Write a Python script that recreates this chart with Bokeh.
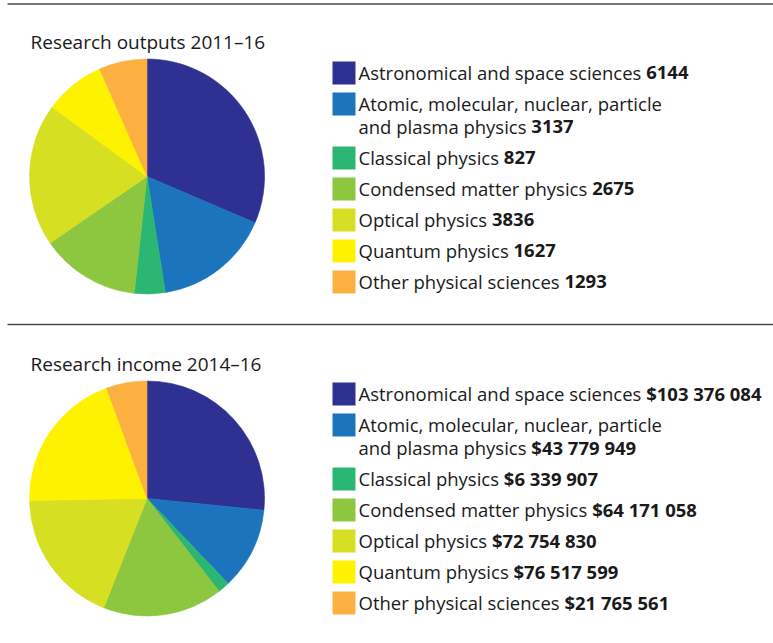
import os, subprocess
import numpy as np
from bokeh.plotting import figure
from bokeh.models import Range1d, ColumnDataSource
from bokeh.core.properties import value
from bokeh.embed import file_html
from bokeh.resources import INLINE

# ---------------- data ----------------
category_lines = [
    ["Astronomical and space sciences"],
    ["Atomic, molecular, nuclear, particle", "and plasma physics"],
    ["Classical physics"],
    ["Condensed matter physics"],
    ["Optical physics"],
    ["Quantum physics"],
    ["Other physical sciences"],
]
outputs = [6144, 3137, 827, 2675, 3836, 1627, 1293]
income = [103376084, 43779949, 6339907, 64171058, 72754830, 76517599, 21765561]
colors = ["#2E3192", "#1C75BC", "#2BB673", "#8DC63F", "#D7DF23", "#FFF200", "#FBB040"]
titles = ["Research outputs 2011\u201316", "Research income 2014\u201316"]

output_labels = [str(v) for v in outputs]
income_labels = ["$" + f"{v:,}".replace(",", " ") for v in income]

FONT = "Open Sans"

# ---------------- font metrics ----------------
def font_file(spec):
    try:
        r = subprocess.run(["fc-match", "-f", "%{file}", spec], capture_output=True, text=True, timeout=5)
        if r.stdout and os.path.exists(r.stdout):
            return r.stdout
    except Exception:
        pass
    return None

reg_path = font_file(FONT + ":style=Regular")
bold_path = font_file(FONT + ":style=Bold")

def make_measure(path, bold):
    try:
        from PIL import ImageFont
        f = ImageFont.truetype(path, 100)
        if bold:
            try:
                f.set_variation_by_name("Bold")
            except Exception:
                pass
        return lambda s, size: f.getlength(s) * size / 100.0
    except Exception:
        k = 0.58 if bold else 0.53
        return lambda s, size: len(s) * k * size

m_reg = make_measure(reg_path, False)
m_bold = make_measure(bold_path, True)

# fit sizes to reference widths
legend_size = 330.0 / ((m_reg("Astronomical and space sciences ", 1) + m_bold("6144", 1)))
title_size = 19.0

# ---------------- figure ----------------
W, H = 773, 643
p = figure(width=W, height=H, x_range=Range1d(0, W), y_range=Range1d(0, H),
           min_border=0, toolbar_location=None, output_backend="svg",
           x_axis_location=None, y_axis_location=None)
p.grid.visible = False
p.outline_line_color = None
p.background_fill_color = "white"

def X(x):
    return x

def Y(y):
    return H - y

# rules
p.segment(x0=[X(7), X(7)], y0=[Y(3.5), Y(324)], x1=[X(773), X(773)], y1=[Y(3.5), Y(324)],
          line_color="#4a4a4a", line_width=1.3)

panels = [
    dict(values=outputs, labels=output_labels, title=titles[0], cy=176, title_mid=41.5, top=61),
    dict(values=income, labels=income_labels, title=titles[1], cy=498, title_mid=363.5, top=382),
]

for pan in panels:
    vals = np.array(pan["values"], dtype=float)
    frac = vals / vals.sum()
    cum = np.concatenate([[0.0], np.cumsum(frac)])
    start = np.pi / 2 - 2 * np.pi * cum[:-1]
    end = np.pi / 2 - 2 * np.pi * cum[1:]
    src = ColumnDataSource(dict(start=start, end=end, color=colors))
    p.wedge(x=X(146.5), y=Y(pan["cy"]), radius=117.5, start_angle="start", end_angle="end",
            direction="clock", fill_color="color", line_color="color", line_width=0.6, source=src)

    p.text(x=[X(30)], y=[Y(pan["title_mid"])], text=[pan["title"]], text_font=value(FONT),
           text_font_size=f"{title_size:.2f}px", text_color="#1a1a1a", text_baseline="middle")

    top = pan["top"]
    extra = 0
    sx, sy, nx, ny, nt, bx, by, bt = [], [], [], [], [], [], [], []
    for i, lines in enumerate(category_lines):
        t = top + 31 * i + 23 * extra
        sx.append(X(343.5)); sy.append(Y(t + 11.5))
        for j, ln in enumerate(lines):
            mid = t + 11 + 23 * j
            nx.append(X(358)); ny.append(Y(mid)); nt.append(ln)
        last = lines[-1]
        bx.append(X(358) + m_reg(last + " ", legend_size))
        by.append(Y(t + 11 + 23 * (len(lines) - 1)))
        bt.append(pan["labels"][i])
        extra += len(lines) - 1
    p.rect(x=sx, y=sy, width=23, height=23, fill_color=colors, line_color=None)
    p.text(x=nx, y=ny, text=nt, text_font=value(FONT), text_font_size=f"{legend_size:.2f}px",
           text_color="#1a1a1a", text_baseline="middle")
    p.text(x=bx, y=by, text=bt, text_font=value(FONT), text_font_size=f"{legend_size:.2f}px",
           text_font_style="bold", text_color="#1a1a1a", text_baseline="middle")

open("out.html", "w").write(file_html(p, INLINE))
